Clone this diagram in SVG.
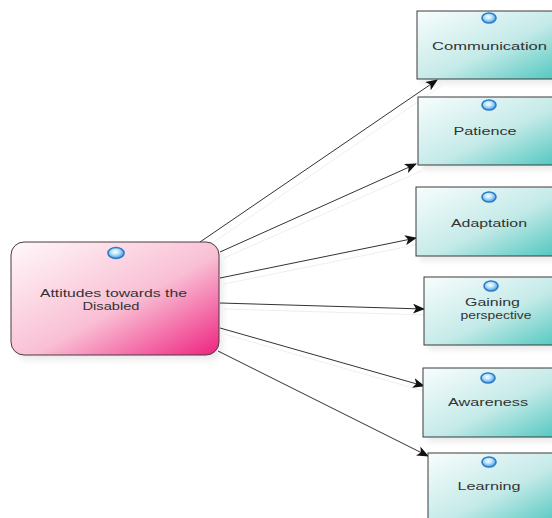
<svg xmlns="http://www.w3.org/2000/svg" width="552" height="518" viewBox="0 0 552 518">
<style>
.box{fill:url(#teal);stroke:#3a3a3a;stroke-width:1}
.main{fill:url(#pink);stroke:#4a3a40;stroke-width:1}
.dot{fill:url(#blue);stroke:#2a7cc8;stroke-width:1.6}
.lbl{font-family:"Liberation Sans",Arial,sans-serif;font-size:11px;fill:#333;text-anchor:middle}
.con{stroke:#333;stroke-width:1;fill:none;marker-end:url(#arr)}
.sh{stroke:#eee;stroke-width:1;fill:none}
.shd{fill:#000;opacity:0.08;filter:url(#blur)}
</style>
<defs>
<filter id="blur" x="-20%" y="-20%" width="140%" height="140%"><feGaussianBlur stdDeviation="3"/></filter>
<linearGradient id="teal" x1="0" y1="0" x2="1" y2="1">
<stop offset="0" stop-color="#f8fdfd"/>
<stop offset="0.55" stop-color="#c4eae8"/>
<stop offset="1" stop-color="#4cc6be"/>
</linearGradient>
<linearGradient id="pink" x1="0" y1="0" x2="1" y2="1">
<stop offset="0" stop-color="#fff8fa"/>
<stop offset="0.55" stop-color="#f9bfd4"/>
<stop offset="1" stop-color="#ee2280"/>
</linearGradient>
<radialGradient id="blue" cx="0.45" cy="0.4" r="0.6">
<stop offset="0" stop-color="#ffffff"/>
<stop offset="0.45" stop-color="#b8e2fb"/>
<stop offset="1" stop-color="#3f95dc"/>
</radialGradient>
<marker id="arr" viewBox="0 0 12 10" refX="11" refY="5" markerWidth="12" markerHeight="10" markerUnits="userSpaceOnUse" orient="auto">
<path d="M0,0 L12,5 L0,10 L3,5 z" fill="#111"/>
</marker>
</defs>
<g id="connectors">
<path class="sh" d="M205,248 L441,86"/>
<path class="sh" d="M224,258 L421,171"/>
<path class="sh" d="M224,284 L420,244"/>
<path class="sh" d="M224,309 L428,315"/>
<path class="sh" d="M224,334 L427,392"/>
<path class="con" d="M200,242 L437,80"/>
<path class="con" d="M220,252 L416,164"/>
<path class="con" d="M220,278 L416,238"/>
<path class="con" d="M220,303 L424,309"/>
<path class="con" d="M220,328 L424,386"/>
<path class="con" d="M218,351 L428,456"/>
</g>
<g id="n-main">
<rect class="shd" x="15" y="247" width="208" height="113" rx="13"/>
<rect class="main" x="11" y="242" width="208" height="113" rx="13"/>
<ellipse class="dot" cx="116" cy="253" rx="8" ry="5.5"/>
<text class="lbl" x="113.5" y="297" textLength="147" lengthAdjust="spacingAndGlyphs">Attitudes towards the</text>
<text class="lbl" x="111" y="310" textLength="57" lengthAdjust="spacingAndGlyphs">Disabled</text>
</g>
<g id="n-communication">
<rect class="shd" x="421" y="16" width="144" height="68"/>
<rect class="box" x="417" y="11" width="144" height="68"/>
<ellipse class="dot" cx="489" cy="18" rx="7" ry="5"/>
<text class="lbl" x="489.5" y="50" textLength="115" lengthAdjust="spacingAndGlyphs">Communication</text>
</g>
<g id="n-patience">
<rect class="shd" x="422" y="102" width="144" height="68"/>
<rect class="box" x="418" y="97" width="144" height="68"/>
<ellipse class="dot" cx="489" cy="105" rx="7" ry="5"/>
<text class="lbl" x="485" y="135" textLength="63" lengthAdjust="spacingAndGlyphs">Patience</text>
</g>
<g id="n-adaptation">
<rect class="shd" x="420" y="192" width="144" height="69"/>
<rect class="box" x="416" y="187" width="144" height="69"/>
<ellipse class="dot" cx="489" cy="197" rx="7" ry="5"/>
<text class="lbl" x="489" y="227" textLength="76" lengthAdjust="spacingAndGlyphs">Adaptation</text>
</g>
<g id="n-gaining">
<rect class="shd" x="428" y="282" width="140" height="68"/>
<rect class="box" x="424" y="277" width="140" height="68"/>
<ellipse class="dot" cx="491" cy="286" rx="7" ry="5"/>
<text class="lbl" x="492.5" y="306" textLength="55" lengthAdjust="spacingAndGlyphs">Gaining</text>
<text class="lbl" x="496" y="319" textLength="71" lengthAdjust="spacingAndGlyphs">perspective</text>
</g>
<g id="n-awareness">
<rect class="shd" x="427" y="373" width="140" height="69"/>
<rect class="box" x="423" y="368" width="140" height="69"/>
<ellipse class="dot" cx="488" cy="378" rx="7" ry="5"/>
<text class="lbl" x="488" y="406" textLength="80" lengthAdjust="spacingAndGlyphs">Awareness</text>
</g>
<g id="n-learning">
<rect class="box" x="428" y="453" width="136" height="70"/>
<ellipse class="dot" cx="489" cy="462" rx="7" ry="5"/>
<text class="lbl" x="489" y="490" textLength="63" lengthAdjust="spacingAndGlyphs">Learning</text>
</g>
</svg>
